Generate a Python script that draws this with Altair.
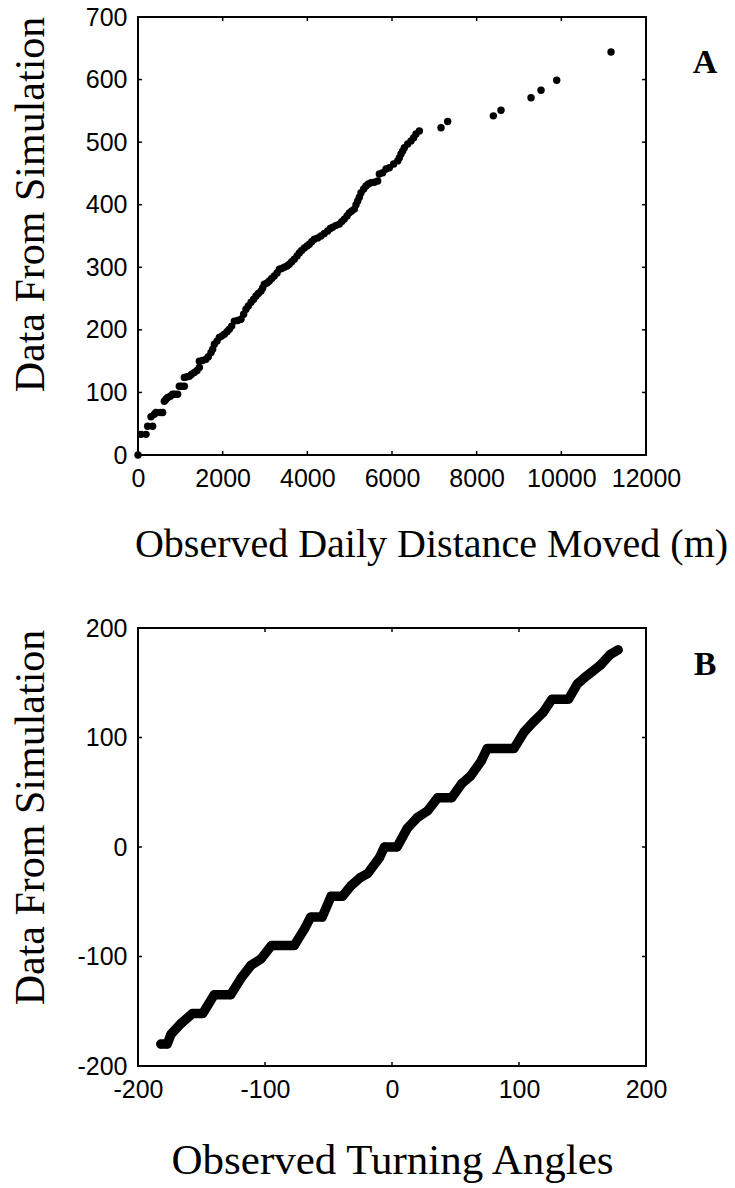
import altair as alt
import pandas as pd

# ---------------- Panel A: observed daily distance vs simulation (Q-Q) -------------
a_obs = [0, 71, 189, 228, 307, 346, 386, 425, 528, 583, 622, 662, 701, 764, 819, 874,
         937, 976, 1032, 1095, 1095, 1158, 1213, 1268, 1331, 1394, 1449, 1449, 1528,
         1606, 1661, 1725, 1764, 1803, 1866, 1921, 1977, 2040, 2103, 2158, 2213, 2276,
         2355, 2433, 2496, 2551, 2606, 2670, 2732, 2788, 2843, 2906, 2945, 2984, 3048,
         3102, 3158, 3220, 3284, 3338, 3394, 3456, 3520, 3574, 3631, 3692, 3756, 3811,
         3866, 3929, 3993, 4047, 4103, 4165, 4245, 4323, 4402, 4481, 4543, 4599, 4678,
         4756, 4812, 4874, 4937, 4992, 5048, 5110, 5150, 5190, 5229, 5268, 5331, 5386,
         5441, 5504, 5583, 5662, 5701, 5780, 5859, 5937, 6040, 6135, 6174, 6213, 6253,
         6292, 6371, 6449, 6512, 6567, 6646, 7158, 7315, 8394, 8575, 9284, 9520, 9891,
         11174]
a_sim = [0, 33, 33, 46, 61, 46, 65, 68, 68, 68, 86, 89, 92, 94, 97, 97,
         97, 110, 110, 110, 124, 125, 126, 129, 132, 135, 140, 150, 151,
         153, 157, 164, 169, 177, 182, 188, 190, 193, 197, 201, 206, 214,
         215, 217, 225, 233, 238, 244, 249, 254, 258, 262, 267, 273, 275,
         278, 282, 286, 291, 297, 298, 300, 302, 305, 309, 313, 318, 323,
         327, 331, 334, 337, 341, 345, 347, 350, 354, 358, 362, 364, 367,
         369, 373, 377, 382, 387, 390, 393, 400, 406, 412, 419, 425, 430,
         433, 435, 436, 438, 449, 451, 457, 459, 465, 470, 475, 481, 486,
         491, 497, 502, 507, 513, 518, 523, 533, 542, 551, 571, 583, 599,
         644]

# ---------------- Panel B: observed turning angles vs simulation (Q-Q) -------------
b_obs = [-182, -177, -174, -166, -157, -149, -140, -127, -119, -111, -103, -95, -77,
         -69, -64, -55, -48, -39, -32, -25, -19, -10, -6, 4, 12, 20, 28, 36, 47,
         55, 62, 70, 75, 96, 104, 112, 119, 126, 139, 146, 153, 164, 172, 178]
b_sim = [-180, -180, -171, -161, -152, -152, -135, -135, -120, -108, -102, -90, -90,
         -75, -64, -64, -45, -45, -35, -28, -24, -10, 0, 0, 17, 27, 33, 45, 45,
         58, 65, 78, 90, 90, 105, 115, 123, 135, 135, 149, 156, 166, 176, 180]

a_xticks = [0, 2000, 4000, 6000, 8000, 10000, 12000]
a_yticks = [0, 100, 200, 300, 400, 500, 600, 700]
b_ticks = [-200, -100, 0, 100, 200]

W, H = 508, 438
TICK = 4
LABEL_FONT = "Liberation Sans"
TITLE_FONT = "Liberation Serif"

dfa = pd.DataFrame({"obs": a_obs, "sim": a_sim})
dfb = pd.DataFrame({"obs": b_obs, "sim": b_sim, "order": list(range(len(b_obs)))})


def axis(values, title, tsize, **kw):
    return alt.Axis(values=values, title=title, ticks=False, domain=False, grid=False,
                    labelFont=LABEL_FONT, labelFontSize=25, labelColor="black",
                    labelPadding=11, labelExpr="'' + datum.value",
                    titleFont=TITLE_FONT, titleFontSize=tsize,
                    titleFontWeight="normal", titleColor="black", labelFlush=False,
                    labelOverlap=False, **kw)


def tick_layers(xticks, yticks, xe, ye):
    tx = pd.DataFrame({"obs": xticks})
    ty = pd.DataFrame({"sim": yticks})
    base_x = alt.Chart(tx).mark_rule(color="black", strokeWidth=1.5)
    base_y = alt.Chart(ty).mark_rule(color="black", strokeWidth=1.5)
    return [
        base_x.encode(x=xe, y=alt.value(H), y2=alt.value(H - TICK)),
        base_x.encode(x=xe, y=alt.value(0), y2=alt.value(TICK)),
        base_y.encode(y=ye, x=alt.value(0), x2=alt.value(TICK)),
        base_y.encode(y=ye, x=alt.value(W), x2=alt.value(W - TICK)),
    ]


def panel_label(letter, ybase):
    return alt.Chart(pd.DataFrame({"t": [letter]})).mark_text(
        font=TITLE_FONT, fontSize=34, fontWeight="bold", color="black",
        align="center", baseline="alphabetic"
    ).encode(text="t:N", x=alt.value(567), y=alt.value(ybase))


# Panel A
xsa = alt.Scale(domain=[0, 12000], nice=False, zero=False)
ysa = alt.Scale(domain=[0, 700], nice=False, zero=False)
enc_xa = alt.X("obs:Q", scale=xsa,
               axis=axis(a_xticks, "Observed Daily Distance Moved (m)", 40,
                         titleX=293, titleY=101, titleBaseline="alphabetic",
                         titleAlign="center"))
enc_ya = alt.Y("sim:Q", scale=ysa,
               axis=axis(a_yticks, "Data From Simulation", 42, titleX=-108, titleY=187,
                         titleBaseline="middle", titleAlign="center", titleAngle=270))
pts_a = alt.Chart(dfa).mark_circle(size=55, color="black", opacity=1).encode(
    x=enc_xa, y=enc_ya)
chart_a = alt.layer(pts_a, *tick_layers(a_xticks, a_yticks, enc_xa, enc_ya),
                    panel_label("A", 56)).properties(width=W, height=H)

# Panel B
xsb = alt.Scale(domain=[-200, 200], nice=False, zero=False)
ysb = alt.Scale(domain=[-200, 200], nice=False, zero=False)
enc_xb = alt.X("obs:Q", scale=xsb,
               axis=axis(b_ticks, "Observed Turning Angles", 43, titleY=107,
                         titleBaseline="alphabetic", titleAlign="center"))
enc_yb = alt.Y("sim:Q", scale=ysb,
               axis=axis(b_ticks, "Data From Simulation", 42, titleX=-108, titleY=189,
                         titleBaseline="middle", titleAlign="center", titleAngle=270))
line_b = alt.Chart(dfb).mark_line(color="black", strokeWidth=9.5, strokeCap="round",
                                  strokeJoin="round").encode(
    x=enc_xb, y=enc_yb, order="order:Q")
pts_b = alt.Chart(dfb).mark_circle(size=78, color="black", opacity=1).encode(
    x=enc_xb, y=enc_yb)
chart_b = alt.layer(line_b, pts_b, *tick_layers(b_ticks, b_ticks, enc_xb, enc_yb),
                    panel_label("B", 47)).properties(width=W, height=H)

chart = alt.vconcat(chart_a, chart_b, spacing=50).properties(
    padding={"left": 7, "top": 4, "right": 0, "bottom": 0}
).configure(background="white").configure_view(stroke="black", strokeWidth=2)

chart.save("out.html", embed_options={"renderer": "svg", "actions": False})
